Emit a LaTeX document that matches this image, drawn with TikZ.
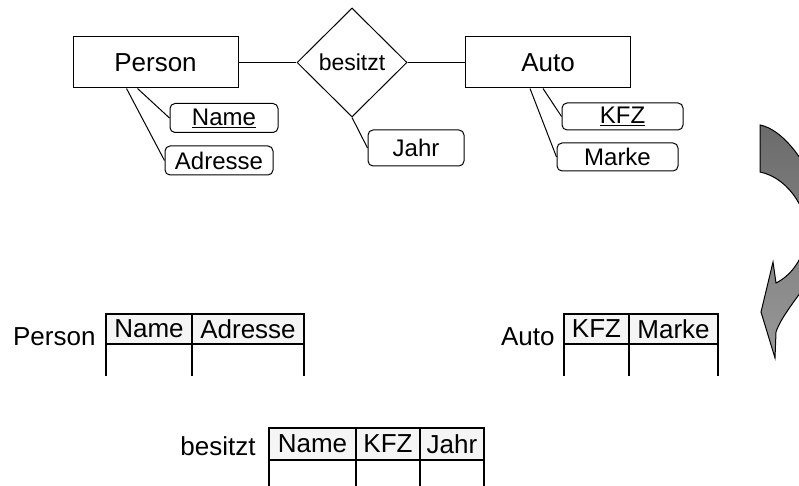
\documentclass[tikz,border=0pt]{standalone}
\usepackage{fontspec}
\setmainfont{Liberation Sans}
\usetikzlibrary{shapes.geometric,positioning}

\begin{document}
\begin{tikzpicture}[x=1pt,y=-1pt,every node/.style={inner sep=0pt},line width=1pt,
    entity/.style={draw,minimum width=165pt,minimum height=51pt,font=\fontsize{26}{30}\selectfont},
    relation/.style={draw,diamond,aspect=1,minimum width=110pt,minimum height=109pt,
      font=\fontsize{23}{28}\selectfont},
    attrib/.style={draw,rounded corners=5pt,minimum width=108pt,minimum height=29pt,
      font=\fontsize{24}{28}\selectfont},
    cell/.style={draw,fill=black!4,line width=2pt,outer sep=0pt,minimum height=30pt,
      font=\fontsize{26}{30}\selectfont},
    tname/.style={anchor=base east,font=\fontsize{26}{30}\selectfont}]
  \useasboundingbox (0,0) rectangle (799,486);
  % ER diagram
  \node[entity] (person) at (155.5,62.5) {Person};
  \node[relation] (besitzt) at (352,62.5) {besitzt};
  \node[entity] (auto) at (548,62.5) {Auto};
  \node[attrib] (name) at (224,118) {\underline{Name}};
  \node[attrib] (adresse) at (219,160.5) {Adresse};
  \node[attrib,minimum width=96pt,minimum height=36pt] (jahr) at (416,148) {Jahr};
  \node[attrib,minimum width=121pt,minimum height=27pt] (kfz) at (622.5,116.5) {\underline{KFZ}};
  \node[attrib,minimum width=121pt,minimum height=28pt] (marke) at (617.5,157) {Marke};
  \draw (person)--(besitzt)--(auto);
  \draw ([xshift=-18pt]person.south)--(name.west);
  \draw ([xshift=-29pt]person.south)--(adresse.west);
  \draw (besitzt.south)--(jahr.west);
  \draw ([xshift=-5pt]auto.south)--(kfz.west);
  \draw ([xshift=-18pt]auto.south)--(marke.west);
  % tables
  \node[tname] (tperson) at (96,345) {Person};
  \node[cell,minimum width=86pt] (pname) at (149,329) {Name};
  \node[cell,minimum width=112pt,right=0pt of pname] (padresse) {Adresse};
  \node[tname] (tauto) at (555,345) {Auto};
  \node[cell,minimum width=65pt] (akfz) at (596.5,329) {KFZ};
  \node[cell,minimum width=89pt,right=0pt of akfz] (amarke) {Marke};
  \node[tname] (tbesitzt) at (256,455) {besitzt};
  \node[cell,minimum width=87pt,minimum height=32pt] (bname) at (312.5,444) {Name};
  \node[cell,minimum width=64pt,minimum height=32pt,right=0pt of bname] (bkfz) {KFZ};
  \node[cell,minimum width=64pt,minimum height=32pt,right=0pt of bkfz] (bjahr) {Jahr};
  \foreach \c in {pname.south west,pname.south east,padresse.south east,
      akfz.south west,akfz.south east,amarke.south east}
    \draw[line width=2pt] (\c)--++(0,32);
  \foreach \c in {bname.south west,bname.south east,bkfz.south east,bjahr.south east}
    \draw[line width=2pt] (\c)--++(0,30);
  % arrow
  \begin{scope}
    \clip (0,0) rectangle (799,486);
    \draw[top color=black!58,bottom color=black!40]
      (760,125)--(760,172) .. controls (790,178) and (812,215) .. (806,242)
      .. controls (801,262) and (790,276) .. (776,283)--(773,262)--(761,312)--(775,358)
      --(776,332) .. controls (785,305) and (830,265) .. (828,235)
      .. controls (828,200) and (795,132) .. (760,125)--cycle;
  \end{scope}
\end{tikzpicture}
\end{document}
